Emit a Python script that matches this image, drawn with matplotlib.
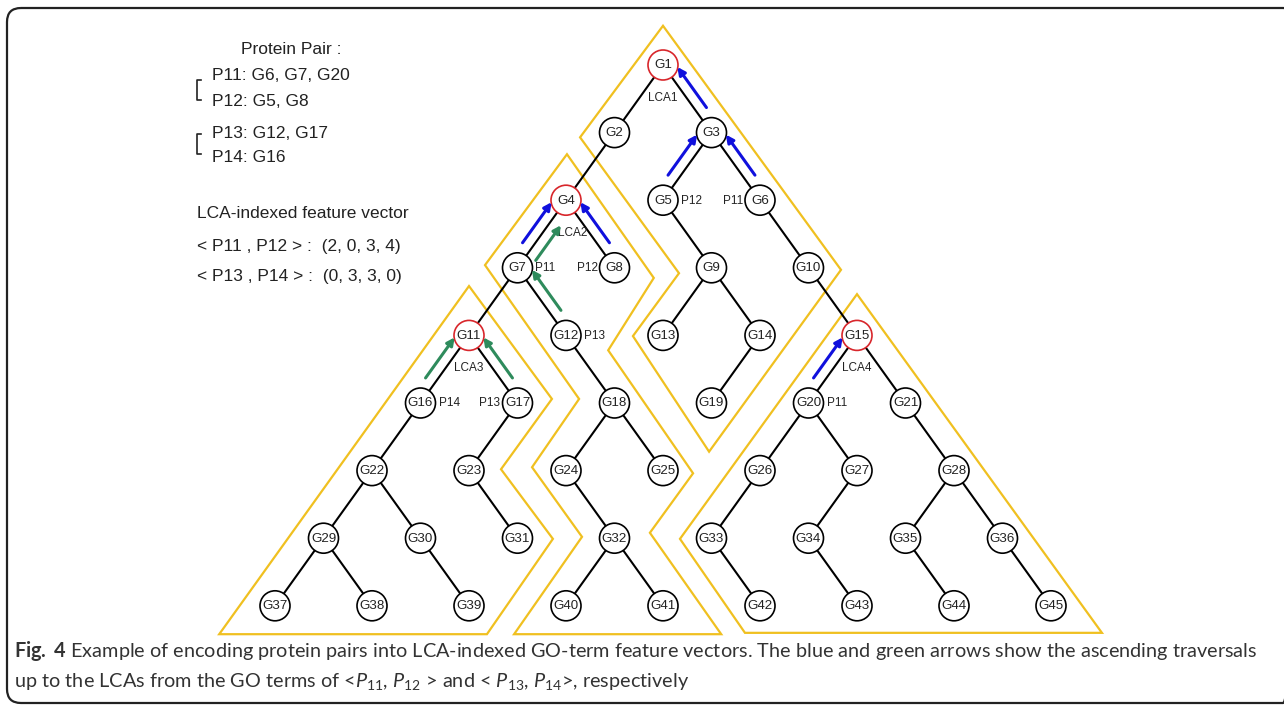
import matplotlib.pyplot as plt
from matplotlib.patches import Circle, Polygon, FancyBboxPatch
from matplotlib import font_manager
import numpy as np

# GO-term tree: parent of each node and the branch it hangs on
node_names = ['G%d' % i for i in range(1, 46)]
parent_of = [None, 'G1', 'G1', 'G2', 'G3', 'G3', 'G4', 'G4', 'G5', 'G6',
             'G7', 'G7', 'G9', 'G9', 'G10', 'G11', 'G11', 'G12', 'G14', 'G15',
             'G15', 'G16', 'G17', 'G18', 'G18', 'G20', 'G20', 'G21', 'G22', 'G22',
             'G23', 'G24', 'G26', 'G27', 'G28', 'G28', 'G29', 'G29', 'G30', 'G32',
             'G32', 'G33', 'G34', 'G35', 'G36']
branch = ['', 'L', 'R', 'L', 'L', 'R', 'L', 'R', 'R', 'R',
          'L', 'R', 'L', 'R', 'R', 'L', 'R', 'R', 'L', 'L',
          'R', 'L', 'L', 'L', 'R', 'L', 'R', 'R', 'L', 'R',
          'R', 'R', 'L', 'L', 'L', 'R', 'L', 'R', 'R', 'L',
          'R', 'R', 'R', 'R', 'R']

# lowest common ancestors
lca_nodes = ['G1', 'G4', 'G11', 'G15']
lca_labels = ['LCA1', 'LCA2', 'LCA3', 'LCA4']

# protein annotations next to GO terms
tag_nodes = ['G5', 'G6', 'G7', 'G8', 'G12', 'G16', 'G17', 'G20']
tag_text = ['P12', 'P11', 'P11', 'P12', 'P13', 'P14', 'P13', 'P11']
tag_side = ['R', 'L', 'R', 'L', 'R', 'R', 'L', 'R']

# ascending traversals (child -> parent)
arrow_from = ['G3', 'G5', 'G6', 'G7', 'G8', 'G20', 'G7', 'G12', 'G16', 'G17']
arrow_to = ['G1', 'G3', 'G3', 'G4', 'G4', 'G15', 'G4', 'G7', 'G11', 'G11']
arrow_pair = ['P11/P12'] * 6 + ['P13/P14'] * 4
arrow_side = [1, -1, 1, -1, 1, -1, 1, 1, -1, 1]

# yellow LCA sub-tree outlines, in (column, level) units
region_lca1 = [(0, -0.58), (-1.71, 1.07), (0.33, 3.08), (-0.62, 4.01),
               (0.95, 5.72), (3.67, 3.03)]
region_lca2 = [(-1.98, 1.32), (-0.19, 3.15), (-1.13, 4.22), (0.62, 6.04),
               (-0.27, 6.92), (1.20, 8.42), (-3.07, 8.42), (-1.67, 6.98),
               (-2.70, 5.95), (-1.73, 4.94), (-3.67, 2.96)]
region_lca3 = [(-4.0, 3.27), (-2.29, 4.94), (-3.34, 5.98), (-2.27, 7.01),
               (-3.63, 8.42), (-9.15, 8.42)]
region_lca4 = [(4.0, 3.39), (0.35, 7.01), (1.69, 8.40), (9.05, 8.40)]

pair_lines = ['P11: G6, G7, G20', 'P12: G5, G8', 'P13: G12, G17', 'P14: G16']
vector_lines = ['< P11 , P12 > :  (2, 0, 3, 4)', '< P13 , P14 > :  (0, 3, 3, 0)']

YELLOW = '#F0C020'
RED = '#D8262B'
BLUE = '#1010DD'
GREEN = '#2E8B5C'
INK = '#222222'
pair_colors = {'P11/P12': BLUE, 'P13/P14': GREEN}

installed = {f.name for f in font_manager.fontManager.ttflist}
cap_font = 'Liberation Sans Narrow' if 'Liberation Sans Narrow' in installed else 'Lato'
plt.rcParams['mathtext.fontset'] = 'custom'
plt.rcParams['mathtext.rm'] = cap_font
plt.rcParams['mathtext.it'] = cap_font + ':italic'
plt.rcParams['mathtext.bf'] = cap_font + ':bold'

X0, Y0, DX, DY = 663, 65, 48.5, 67.6
R = 15


def to_px(col, lev):
    return X0 + col * DX, Y0 + lev * DY


# node layout from the tree
grid = {}
for name, par, br in zip(node_names, parent_of, branch):
    if par is None:
        grid[name] = (0, 0)
    else:
        c, l = grid[par]
        grid[name] = (c + (-1 if br == 'L' else 1), l + 1)
pos = {n: to_px(*grid[n]) for n in node_names}

fig = plt.figure(figsize=(12.84, 7.08), dpi=100)
ax = fig.add_axes([0, 0, 1, 1])
ax.set_xlim(0, 1284)
ax.set_ylim(708, 0)
ax.axis('off')

# frame
ax.add_patch(FancyBboxPatch((7, 8), 1290, 695, boxstyle='round,pad=0,rounding_size=14',
                            fill=False, ec=INK, lw=1.6, zorder=1))

# yellow regions
for reg in [region_lca1, region_lca2, region_lca3, region_lca4]:
    pts = [to_px(c, l) for c, l in reg]
    ax.add_patch(Polygon(pts, closed=True, fill=False, ec=YELLOW, lw=1.6, zorder=2))

# edges
for name, par in zip(node_names, parent_of):
    if par is None:
        continue
    x1, y1 = pos[name]
    x2, y2 = pos[par]
    ax.plot([x1, x2], [y1, y2], color='black', lw=1.5, zorder=3)

# nodes
for name in node_names:
    x, y = pos[name]
    ec = RED if name in lca_nodes else 'black'
    ax.add_patch(Circle((x, y), R, fc='white', ec=ec, lw=1.2, zorder=4))
    ax.text(x, y + 0.5, name, ha='center', va='center', fontsize=9.6,
            family='Liberation Sans', color=INK, zorder=5)

for n, lab in zip(lca_nodes, lca_labels):
    x, y = pos[n]
    dx = 7 if n == 'G4' else 0
    ax.text(x + dx, y + 33, lab, ha='center', va='center', fontsize=8.5,
            family='Liberation Sans', color=INK, zorder=5)

for n, t, s in zip(tag_nodes, tag_text, tag_side):
    x, y = pos[n]
    if s == 'R':
        ax.text(x + 18, y + 0.5, t, ha='left', va='center', fontsize=8.5,
                family='Liberation Sans', color=INK, zorder=5)
    else:
        ax.text(x - 17, y + 0.5, t, ha='right', va='center', fontsize=8.5,
                family='Liberation Sans', color=INK, zorder=5)

# traversal arrows, drawn beside the edges
for k, (a, b, p, s) in enumerate(zip(arrow_from, arrow_to, arrow_pair, arrow_side)):
    p1 = np.array(pos[a])
    p2 = np.array(pos[b])
    v = p2 - p1
    u = v / np.hypot(*v)
    nrm = np.array([-u[1], u[0]]) * s * 10.5
    t0, t1 = (0.20, 0.72) if k == 6 else (0.28, 0.88)
    tail = p1 + v * t0 + nrm
    head = p1 + v * t1 + nrm
    ax.annotate('', xy=head, xytext=tail,
                arrowprops=dict(arrowstyle='-|>', color=pair_colors[p], lw=2.2,
                                mutation_scale=11, shrinkA=0, shrinkB=0),
                zorder=6)

# left-hand legend text
ax.text(291, 50, 'Protein Pair :', ha='center', va='center', fontsize=12.5,
        family='Liberation Sans', color=INK)
for line, yy in zip(pair_lines, [76, 101, 133, 158]):
    ax.text(212, yy, line, ha='left', va='center', fontsize=12.5,
            family='Liberation Sans', color=INK)
for y_top, y_bot in [(80, 100), (134, 154)]:
    ax.plot([201, 197, 197, 201], [y_top, y_top, y_bot, y_bot], color=INK, lw=1.2)
ax.text(197, 213, 'LCA-indexed feature vector', ha='left', va='center', fontsize=12.5,
        family='Liberation Sans', color=INK)
for line, yy in zip(vector_lines, [246, 276]):
    ax.text(197, yy, line, ha='left', va='center', fontsize=12.5,
            family='Liberation Sans', color=INK)

# caption, sized to span the same width as the original
cap1 = ax.text(14, 651, r'$\mathbf{Fig.\ 4}$ Example of encoding protein pairs into LCA-indexed '
               'GO-term feature vectors. The blue and green arrows show the ascending traversals',
               ha='left', va='center', fontsize=14, family=cap_font, color='#333333')
cap2 = ax.text(14, 682, r'up to the LCAs from the GO terms of <$P_{11}$, $P_{12}$ > and '
               r'< $P_{13}$, $P_{14}$>, respectively',
               ha='left', va='center', fontsize=14, family=cap_font, color='#333333')
fig.canvas.draw()
w = cap1.get_window_extent(fig.canvas.get_renderer()).width
size = 14 * 1248 / w
cap1.set_fontsize(size)
cap2.set_fontsize(size)

fig.savefig('out.png', dpi=100)
